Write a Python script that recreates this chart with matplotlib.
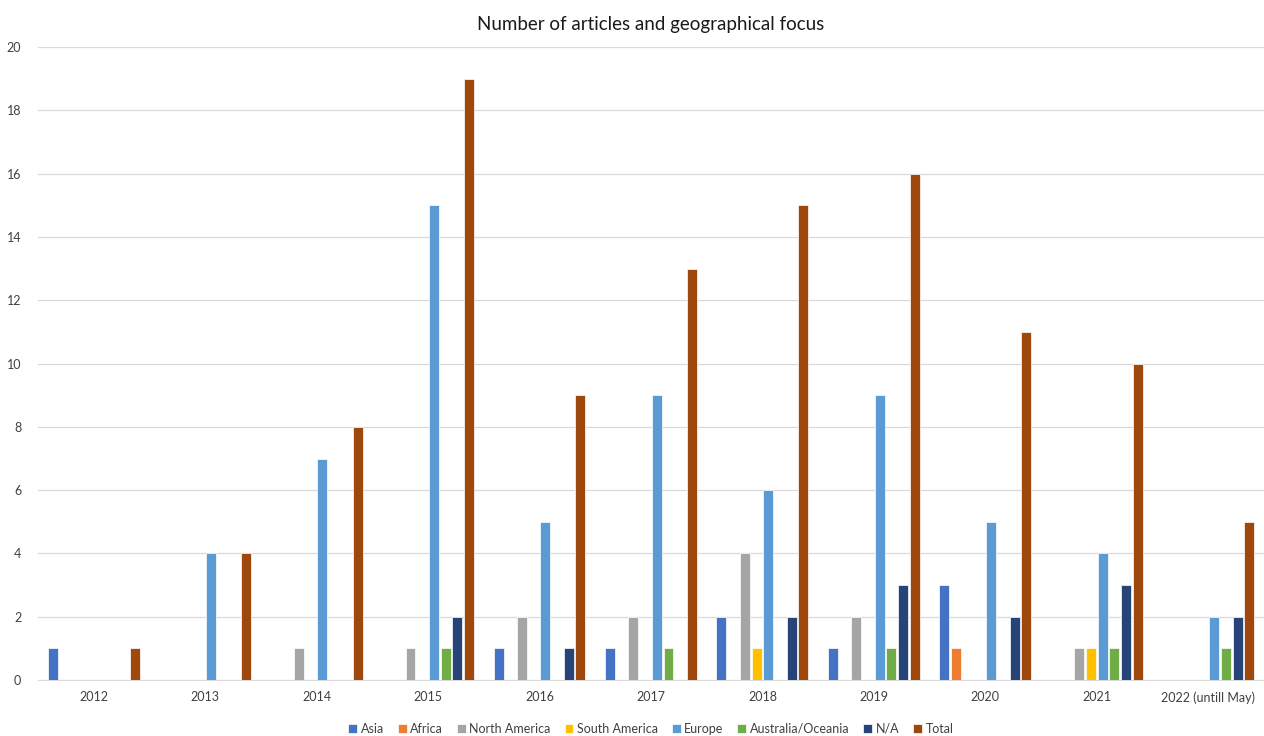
import numpy as np
import matplotlib.pyplot as plt

plt.rcParams['font.family'] = ['Lato', 'DejaVu Sans']

years = ['2012', '2013', '2014', '2015', '2016', '2017', '2018', '2019', '2020', '2021', '2022 (untill May)']
series = ['Asia', 'Africa', 'North America', 'South America', 'Europe', 'Australia/Oceania', 'N/A', 'Total']
colors = ['#4472C4', '#ED7D31', '#A5A5A5', '#FFC000', '#5B9BD5', '#70AD47', '#264478', '#9E480E']

asia          = [1, 0, 0, 0, 1, 1, 2, 1, 3, 0, 0]
africa        = [0, 0, 0, 0, 0, 0, 0, 0, 1, 0, 0]
north_america = [0, 0, 1, 1, 2, 2, 4, 2, 0, 1, 0]
south_america = [0, 0, 0, 0, 0, 0, 1, 0, 0, 1, 0]
europe        = [0, 4, 7, 15, 5, 9, 6, 9, 5, 4, 2]
australia     = [0, 0, 0, 1, 0, 1, 0, 1, 0, 1, 1]
na            = [0, 0, 0, 2, 1, 0, 2, 3, 2, 3, 2]
total         = [1, 4, 8, 19, 9, 13, 15, 16, 11, 10, 5]
values = [asia, africa, north_america, south_america, europe, australia, na, total]

fig = plt.figure(figsize=(12.64, 7.36), dpi=100)
ax = fig.add_axes([0.030, 0.076, 0.970, 0.860])

x = np.arange(len(years))
group = 0.84
slot = group / len(series)
for i, (name, vals) in enumerate(zip(series, values)):
    offs = x - group / 2 + slot * (i + 0.5)
    ax.bar(offs, vals, width=slot * 0.85, color=colors[i], label=name,
           edgecolor='white', linewidth=0.5, zorder=3)

ax.set_xlim(-0.5, len(years) - 0.5)
ax.set_ylim(0, 20)
ax.set_yticks(range(0, 21, 2))
ax.set_xticks(x)
ax.set_xticklabels(years)
ax.tick_params(axis='both', length=0, labelsize=9, colors='#404040')
ax.tick_params(axis='x', pad=8)
ax.tick_params(axis='y', pad=12)
ax.grid(axis='y', color='#D9D9D9', linewidth=0.9, zorder=0)
for s in ['top', 'right', 'left']:
    ax.spines[s].set_visible(False)
ax.spines['bottom'].set_color('#D9D9D9')

ax.set_title('Number of articles and geographical focus', fontsize=13.5, color='#1a1a1a', pad=12)

ax.legend(loc='upper center', bbox_to_anchor=(0.5, -0.05), ncol=8, frameon=False,
          fontsize=9, handlelength=0.7, handleheight=0.7, handletextpad=0.3,
          columnspacing=1.1, labelcolor='#404040')

plt.savefig('out.png')
